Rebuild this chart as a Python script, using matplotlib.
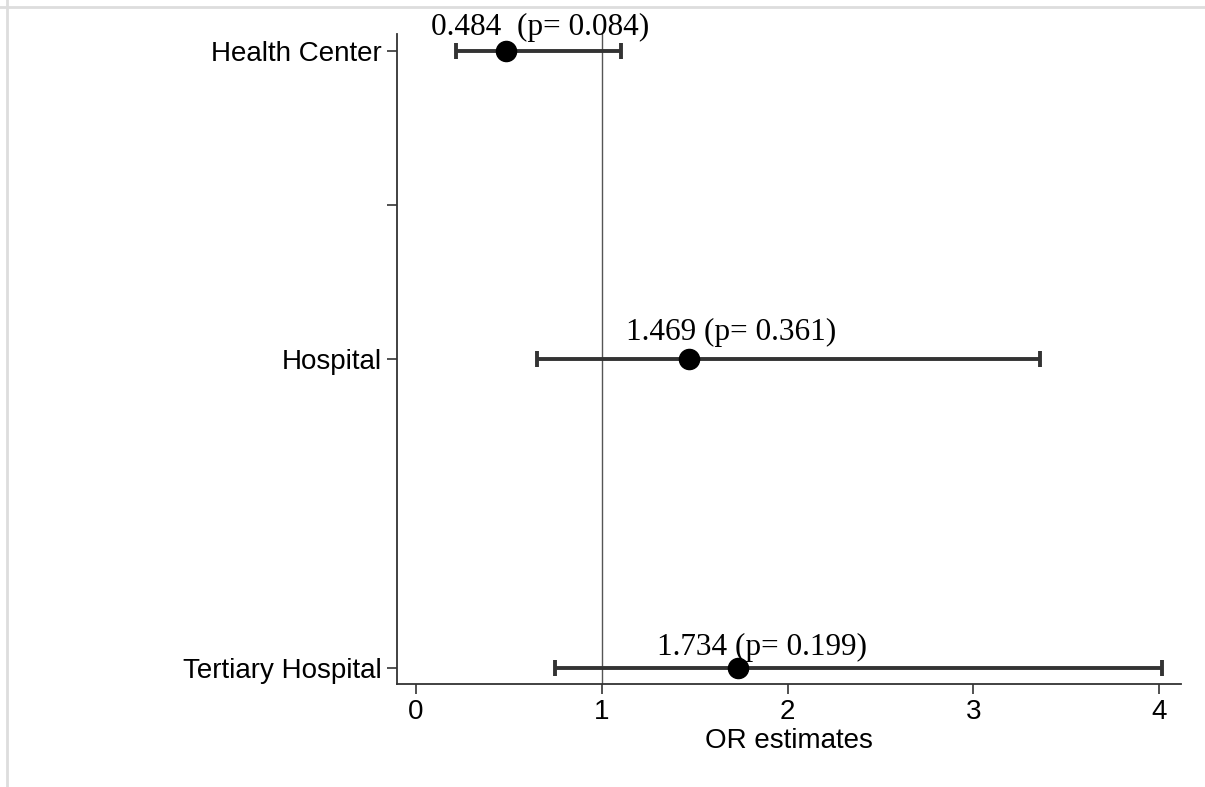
import matplotlib
matplotlib.use("Agg")
import matplotlib.pyplot as plt
from matplotlib.lines import Line2D

categories = ["Health Center", "Hospital", "Tertiary Hospital"]
or_est = [0.484, 1.469, 1.734]
ci_low = [0.215, 0.651, 0.748]
ci_high = [1.102, 3.36, 4.015]
p_values = [0.084, 0.361, 0.199]
labels = ["0.484  (p= 0.084)", "1.469 (p= 0.361)", "1.734 (p= 0.199)"]
label_x = [0.081, 1.13, 1.30]
x_ticks = [0, 1, 2, 3, 4]

fig = plt.figure(figsize=(12.05, 7.87), dpi=100)
ax = fig.add_axes([397/1205, 1-684/787, (1181-397)/1205, (684-34)/787])

ypos = [3, 2, 1]
ax.axvline(1, color="#555555", lw=1.0, zorder=1)
for y, est, lo, hi in zip(ypos, or_est, ci_low, ci_high):
    ax.errorbar([est], [y], xerr=[[est-lo], [hi-est]], fmt="none",
                ecolor="#333333", elinewidth=2.8, capsize=6, capthick=2.8, zorder=2)
ax.plot(or_est, ypos, "o", color="black", markersize=14.5, zorder=3)

offs = [0.052, 0.062, 0.042]
for y, lx, lab, o in zip(ypos, label_x, labels, offs):
    ax.text(lx, y + o, lab, ha="left", va="baseline", fontsize=22.5,
            family="Liberation Serif", color="black", zorder=4)

ax.set_xlim(-0.102, 4.118)
ax.set_ylim(0.948, 3.055)
ax.set_xticks(x_ticks)
ax.set_xticklabels([str(t) for t in x_ticks], fontsize=20, family="Liberation Sans")
ax.set_yticks([3, 2.5, 2, 1])
ax.set_yticklabels(["Health Center", "", "Hospital", "Tertiary Hospital"],
                   fontsize=20, family="Liberation Sans")
ax.set_xlabel("OR estimates", fontsize=20, family="Liberation Sans", labelpad=2)
ax.tick_params(axis="both", direction="out", length=7, width=1.2, color="#333333", pad=4)
for s in ["top", "right"]:
    ax.spines[s].set_visible(False)
for s in ["left", "bottom"]:
    ax.spines[s].set_linewidth(1.3)
    ax.spines[s].set_color("#333333")

# light figure frame lines (top and left)
fig.add_artist(Line2D([0, 1], [1-7/787, 1-7/787], transform=fig.transFigure,
                      color="#dddddd", lw=2))
fig.add_artist(Line2D([7/1205, 7/1205], [0, 1], transform=fig.transFigure,
                      color="#dddddd", lw=2))

fig.savefig("out.png", dpi=100)
